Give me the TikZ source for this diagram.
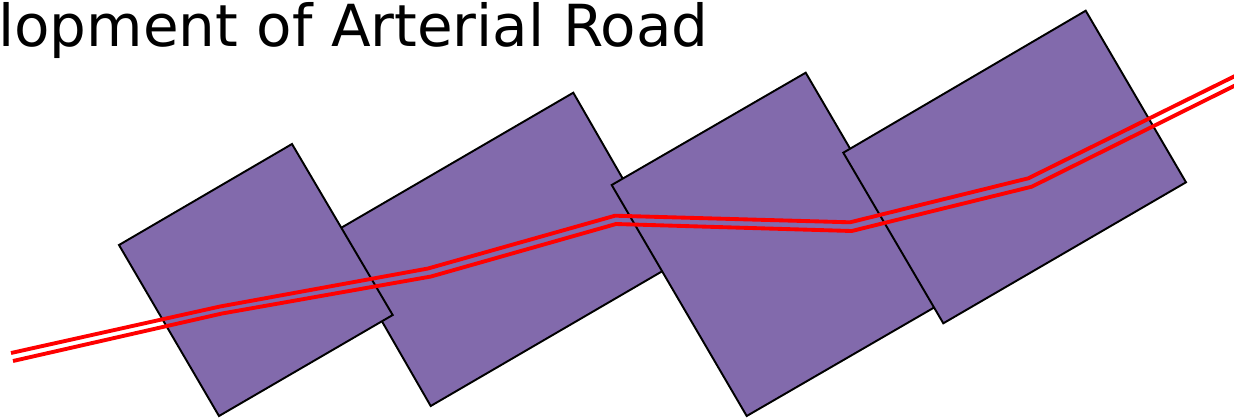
\documentclass[tikz,border=0pt]{standalone}
\usepackage{fontspec}
\setmainfont{DejaVu Sans}
\usepackage{tikz}
\usetikzlibrary{calc}

\definecolor{plotpurple}{RGB}{130,106,172}
\tikzset{
  parcel/.style={fill=plotpurple, draw=black, line width=1.1pt, line join=miter},
  roadline/.style={draw=red, line width=2.2pt, line join=round}
}

\begin{document}
\begin{tikzpicture}[x=0.02cm, y=-0.02cm]
          \useasboundingbox (0,0) rectangle (1234,417);
          \node[font=\fontsize{33}{39}\selectfont, anchor=base west, inner sep=0pt] (title) at (-2,46)
            {lopment of Arterial Road};
          % land parcels along the road
          \filldraw[parcel] (331.4,233.5) -- (573.3,92.7) -- (672.6,265.2) -- (430.7,406) -- cycle;
          \filldraw[parcel] (119,245) -- (292,144) -- (392.7,315) -- (219,416) -- cycle;
          \filldraw[parcel] (611.7,185) -- (805.7,72.7) -- (940.7,303.7) -- (746.7,416) -- cycle;
          \filldraw[parcel] (843.3,152.7) -- (1085.7,10.7) -- (1186,182.3) -- (943.3,323.3) -- cycle;
          % arterial road
          \draw[roadline] (11,353) -- (220,306.5) -- (428,268.5) -- (615,215.7)
            -- (850,222.3) -- (1028.3,178.3) -- (1236,75.5);
          \draw[roadline] (13,361) -- (222,313.5) -- (431,276.5) -- (616,224)
            -- (851.7,231) -- (1031.7,186.7) -- (1236,85);
        \end{tikzpicture}
\end{document}
